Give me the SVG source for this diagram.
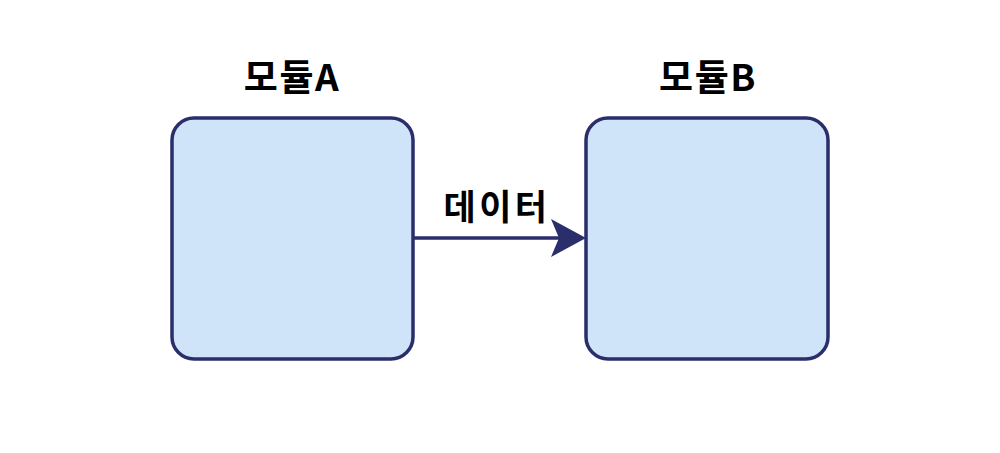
<svg xmlns="http://www.w3.org/2000/svg" width="1000" height="453" viewBox="0 0 1000 453">
<style>
.box{fill:#cfe4f8;stroke:#2a2e6a;stroke-width:3.5}
.t{font-family:"Noto Sans CJK KR","Noto Sans",sans-serif;font-weight:bold;fill:#000;text-anchor:middle}
</style>
<rect width="1000" height="453" fill="#fff"/>
<g id="moduleA">
<rect class="box" x="172" y="118" width="241" height="241" rx="22"/>
<text class="t" x="292" y="91" font-size="37" letter-spacing="1.5">모듈A</text>
</g>
<g id="moduleB">
<rect class="box" x="586" y="118" width="242" height="241" rx="22"/>
<text class="t" x="708" y="91" font-size="37" letter-spacing="1.5">모듈B</text>
</g>
<g id="connectors">
<line x1="413" y1="238" x2="560" y2="238" stroke="#2a2e6a" stroke-width="3.5"/>
<path d="M551,219 L586,238 L551,257 L559,238 Z" fill="#2a2e6a"/>
<text class="t" x="497" y="220" font-size="35" letter-spacing="3.5">데이터</text>
</g>
</svg>
